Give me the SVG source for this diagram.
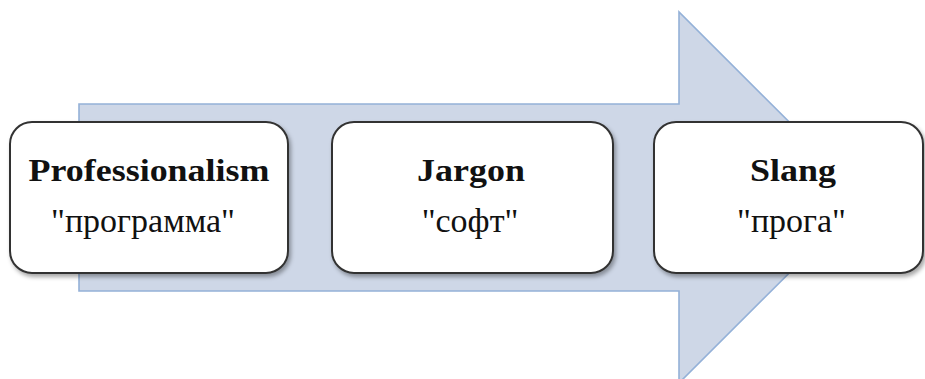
<svg xmlns="http://www.w3.org/2000/svg" width="925" height="379" viewBox="0 0 925 379">
<style>
.box{fill:#ffffff;stroke:#333333;stroke-width:2;filter:url(#sh)}
.t{font-weight:bold;fill:#111;text-anchor:middle}
.s{fill:#111;text-anchor:middle}
</style>
<defs>
<filter id="sh" x="-10%" y="-10%" width="125%" height="130%">
<feDropShadow dx="2" dy="3" stdDeviation="2" flood-color="#000" flood-opacity="0.35"/>
</filter>
</defs>
<g id="connectors">
<polygon points="79,104 679,104 679,12 865,197.5 679,383 679,291 79,291" fill="#ced7e7" stroke="#94b1d8" stroke-width="1.6"/>
</g>
<g id="node-professionalism">
<rect class="box" x="10" y="122" width="278" height="151" rx="22"/>
<text class="t" font-family="Liberation Serif" font-size="31" transform="translate(149,181) scale(1.16,1)">Professionalism</text>
<text class="s" font-family="Liberation Serif" font-size="34" x="143" y="232">"программа"</text>
</g>
<g id="node-jargon">
<rect class="box" x="332" y="122" width="281" height="151" rx="22"/>
<text class="t" font-family="Liberation Serif" font-size="31" transform="translate(471,181) scale(1.16,1)">Jargon</text>
<text class="s" font-family="Liberation Serif" font-size="34" x="470" y="232">"софт"</text>
</g>
<g id="node-slang">
<rect class="box" x="654" y="122" width="269" height="151" rx="22"/>
<text class="t" font-family="Liberation Serif" font-size="31" transform="translate(793,181) scale(1.16,1)">Slang</text>
<text class="s" font-family="Liberation Serif" font-size="34" x="791.5" y="232">"прога"</text>
</g>
</svg>
